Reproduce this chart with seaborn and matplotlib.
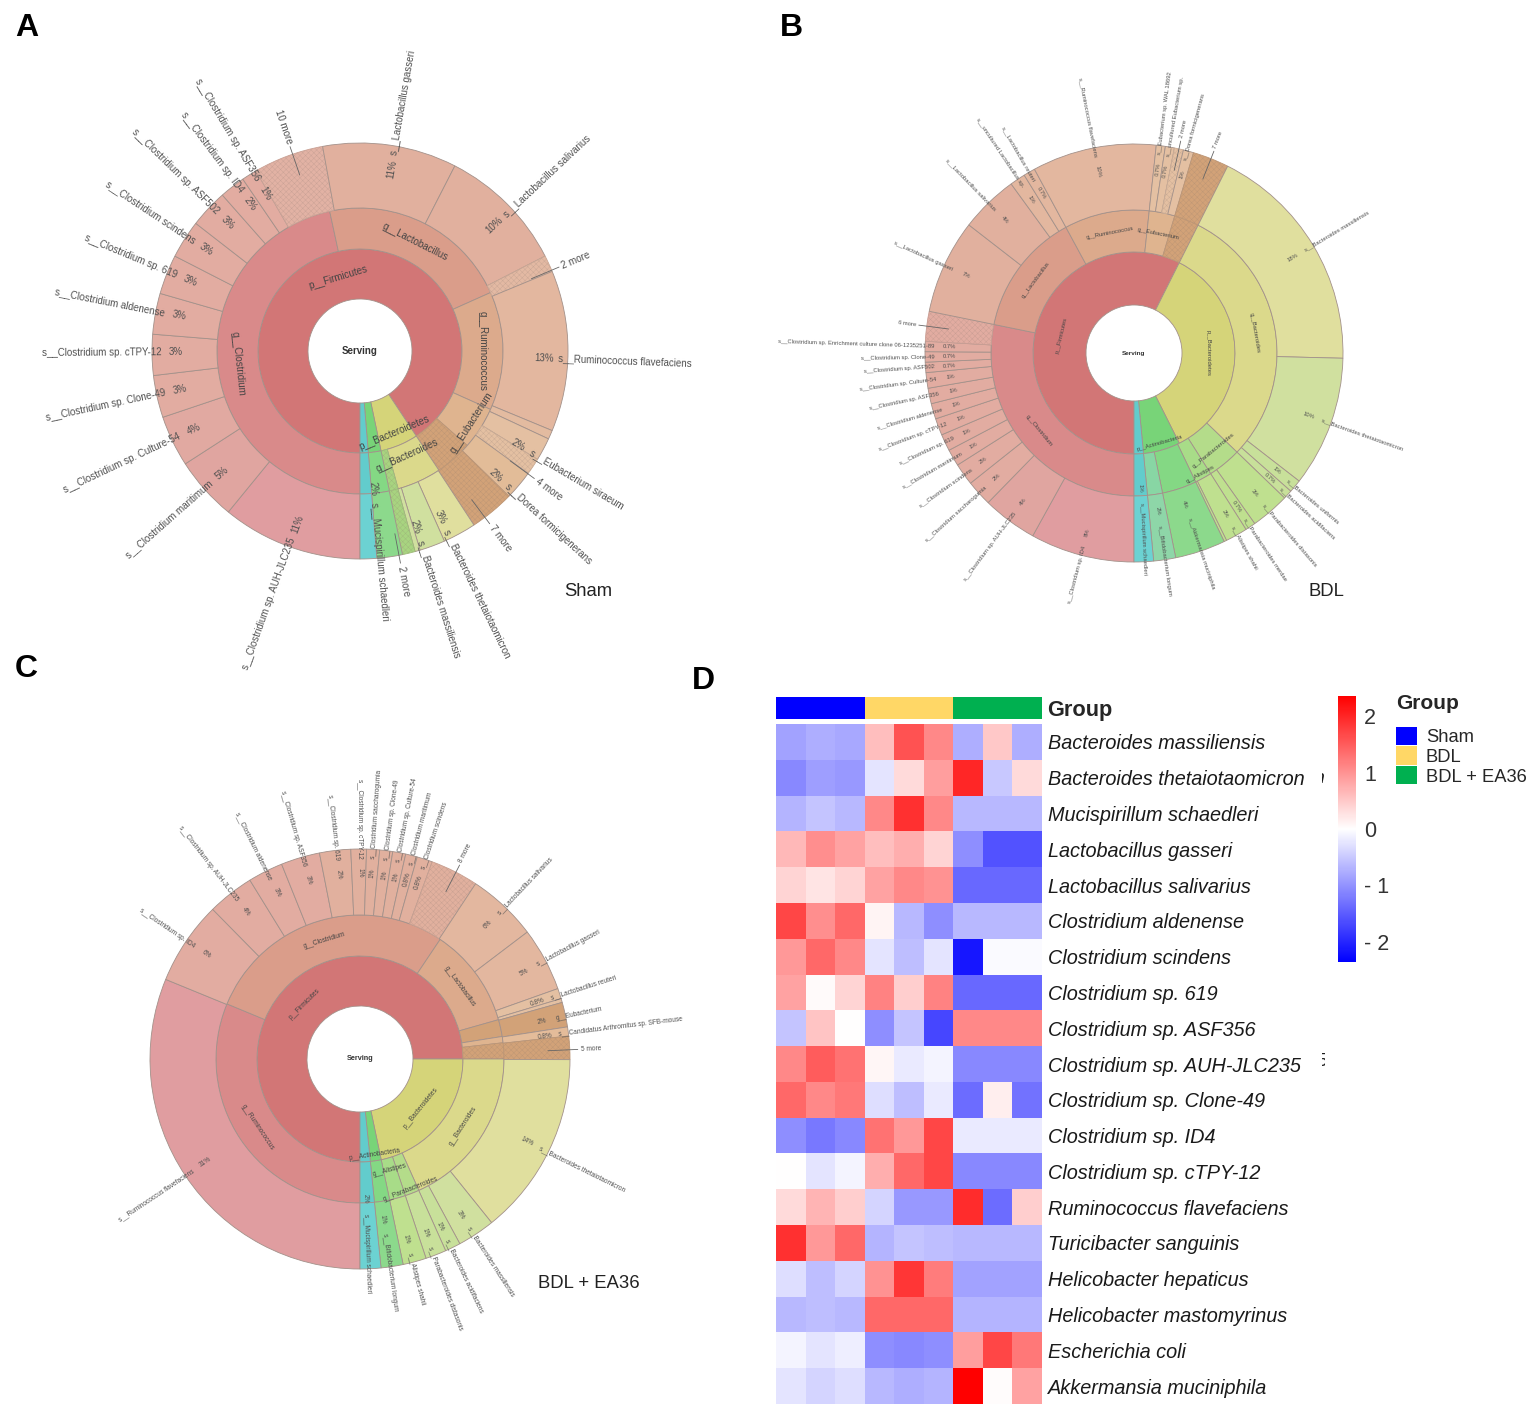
import numpy as np
import pandas as pd
import matplotlib
matplotlib.use("Agg")
import matplotlib.pyplot as plt
from matplotlib.colors import LinearSegmentedColormap, ListedColormap, to_rgb
from matplotlib.patches import Patch
from matplotlib.transforms import Bbox
import seaborn as sns

# ---------- Panel A data (percent of circle, clockwise from 6 o'clock) ----------
a_phylum = ["p__Firmicutes", "p__Bacteroidetes", "", ""]
a_phylum_v = [90.7, 6.0, 2.0, 1.3]
a_genus = ["g__Clostridium", "g__Lactobacillus", "g__Ruminococcus", "g__Eubacterium", "",
           "g__Bacteroides", "", "", ""]
a_genus_v = [46.6, 21.7, 13.4, 4.8, 4.2, 5.0, 1.0, 2.0, 1.3]
a_species = ["s__Clostridium sp. AUH-JLC235", "s__Clostridium maritimum", "s__Clostridium sp. Culture-54",
             "s__Clostridium sp. Clone-49", "s__Clostridium sp. cTPY-12", "s__Clostridium aldenense",
             "s__Clostridium sp. 619", "s__Clostridium scindens", "s__Clostridium sp. ASF502",
             "s__Clostridium sp. ID4", "s__Clostridium sp. ASF356", "10 more", "s__Lactobacillus gasseri",
             "s__Lactobacillus salivarius", "2 more", "s__Ruminococcus flavefaciens", "", "s__Eubacterium siraeum",
             "4 more", "s__Dorea formicigenerans", "7 more", "s__Bacteroides thetaiotaomicron",
             "s__Bacteroides massiliensis", "", "2 more", "s__Mucispirillum schaedleri", ""]
a_species_v = [11.0, 5.0, 4.0, 3.3, 3.2, 3.2, 3.1, 3.0, 3.0, 2.0, 1.2, 5.5, 10.5, 10.0, 1.3, 12.6, 0.7,
               1.8, 1.3, 2.3, 3.5, 2.6, 2.0, 0.4, 1.0, 2.0, 1.3]
a_species_pct = ["11%", "5%", "4%", "3%", "3%", "3%", "3%", "3%", "3%", "2%", "1%", "", "11%", "10%", "", "13%",
                 "", "2%", "", "2%", "", "3%", "2%", "", "", "2%", ""]

# ---------- Panel B data ----------
b_phylum = ["p__Firmicutes", "p__Bacteroidetes", "p__Actinobacteria", ""]
b_phylum_v = [57.4, 35.2, 5.9, 1.5]
b_genus = ["g__Clostridium", "g__Lactobacillus", "g__Ruminococcus", "g__Eubacterium", "", "g__Bacteroides",
           "g__Parabacteroides", "g__Alistipes", "", "", ""]
b_genus_v = [28.2, 13.9, 9.6, 2.9, 2.8, 29.8, 3.8, 1.9, 3.9, 1.7, 1.5]
b_species = ["s__Clostridium sp. ID4", "s__Clostridium sp. AUH-JLC235", "s__Clostridium saccharogumia",
             "s__Clostridium scindens", "s__Clostridium maritimum", "s__Clostridium sp. 619",
             "s__Clostridium sp. cTPY-12", "s__Clostridium aldenense", "s__Clostridium sp. ASF356",
             "s__Clostridium sp. Culture-54", "s__Clostridium sp. ASF502", "s__Clostridium sp. Clone-49",
             "s__Clostridium sp. Enrichment culture clone 06-1235251-89", "6 more",
             "s__Lactobacillus gasseri", "s__Lactobacillus salivarius", "s__uncultured Lactobacillus sp.",
             "s__Lactobacillus reuteri", "s__Ruminococcus flavefaciens", "s__Eubacterium sp. WAL 18692",
             "s__uncultured Eubacterium sp.", "2 more", "s__Dorea formicigenerans", "7 more",
             "s__Bacteroides massiliensis", "s__Bacteroides thetaiotaomicron", "s__Bacteroides uniformis",
             "s__Bacteroides acidifaciens", "s__Parabacteroides distasonis", "s__Parabacteroides merdae",
             "s__Alistipes shahii", "", "s__Akkermansia muciniphila", "s__Bifidobacterium longum",
             "s__Mucispirillum schaedleri"]
b_species_v = [8.05, 4.25, 2.0, 1.7, 1.3, 1.3, 1.3, 1.2, 1.2, 1.2, 0.8, 0.8, 0.8, 2.3, 7.3, 4.5, 1.2, 0.9, 9.6,
               0.7, 0.7, 0.7, 0.8, 2.8, 18.0, 10.1, 1.0, 0.7, 3.0, 0.8, 1.7, 0.2, 3.9, 1.7, 1.5]
b_species_pct = ["8%", "4%", "2%", "2%", "1%", "1%", "1%", "1%", "1%", "1%", "0.7%", "0.7%", "0.7%", "",
                 "7%", "4%", "1%", "0.7%", "10%", "0.7%", "0.7%", "", "1%", "", "18%", "10%", "1%", "0.7%",
                 "3%", "0.7%", "2%", "", "4%", "2%", "1%"]

# ---------- Panel C data ----------
c_phylum = ["p__Firmicutes", "p__Bacteroidetes", "p__Actinobacteria", ""]
c_phylum_v = [75.0, 21.7, 1.7, 1.6]
c_genus = ["g__Ruminococcus", "g__Clostridium", "g__Lactobacillus", "", "", "", "g__Bacteroides",
           "g__Parabacteroides", "g__Alistipes", "", ""]
c_genus_v = [31.25, 28.15, 11.2, 1.9, 0.7, 1.8, 18.3, 1.6, 1.8, 1.7, 1.6]
c_species = ["s__Ruminococcus flavefaciens", "s__Clostridium sp. ID4", "s__Clostridium sp. AUH-JLC235",
             "s__Clostridium aldenense", "s__Clostridium sp. ASF356", "s__Clostridium sp. 619",
             "s__Clostridium sp. cTPY-12", "s__Clostridium saccharogumia", "s__Clostridium sp. Clone-49",
             "s__Clostridium sp. Culture-54", "s__Clostridium maritimum", "s__Clostridium scindens", "8 more",
             "s__Lactobacillus salivarius", "s__Lactobacillus gasseri", "s__Lactobacillus reuteri", "",
             "g__Eubacterium", "s__Candidatus Arthromitus sp. SFB-mouse", "5 more",
             "s__Bacteroides thetaiotaomicron", "s__Bacteroides massiliensis", "s__Bacteroides acidifaciens",
             "s__Parabacteroides distasonis", "s__Alistipes shahii", "s__Bifidobacterium longum",
             "s__Mucispirillum schaedleri"]
c_species_v = [31.25, 6.45, 3.6, 2.7, 3.0, 2.4, 1.2, 1.0, 1.0, 1.0, 0.9, 1.2, 3.7, 5.4, 4.9, 0.8, 0.3,
               1.9, 0.7, 1.8, 14.2, 2.9, 1.2, 1.6, 1.8, 1.7, 1.6]
c_species_pct = ["31%", "6%", "4%", "3%", "3%", "2%", "1%", "1%", "1%", "1%", "0.8%", "0.8%", "",
                 "6%", "5%", "0.8%", "", "2%", "0.8%", "", "14%", "3%", "1%", "1%", "1%", "1%", "2%"]

# ---------- Panel D data ----------
taxa = ["Bacteroides massiliensis", "Bacteroides thetaiotaomicron", "Mucispirillum schaedleri",
        "Lactobacillus gasseri", "Lactobacillus salivarius", "Clostridium aldenense", "Clostridium scindens",
        "Clostridium sp. 619", "Clostridium sp. ASF356", "Clostridium sp. AUH-JLC235", "Clostridium sp. Clone-49",
        "Clostridium sp. ID4", "Clostridium sp. cTPY-12", "Ruminococcus flavefaciens", "Turicibacter sanguinis",
        "Helicobacter hepaticus", "Helicobacter mastomyrinus", "Escherichia coli", "Akkermansia muciniphila"]
samples = ["S1", "S2", "S3", "B1", "B2", "B3", "E1", "E2", "E3"]
z_scores = [
    [-0.85, -0.75, -0.8, 0.6, 1.6, 1.1, -0.75, 0.5, -0.75],
    [-1.1, -0.9, -0.95, -0.25, 0.35, 0.9, 2.0, -0.5, 0.35],
    [-0.7, -0.55, -0.65, 1.1, 1.9, 1.1, -0.65, -0.65, -0.65],
    [0.65, 1.05, 0.85, 0.6, 0.75, 0.4, -1.05, -1.6, -1.6],
    [0.4, 0.25, 0.4, 0.85, 1.1, 1.0, -1.4, -1.4, -1.4],
    [1.7, 1.05, 1.4, 0.1, -0.65, -1.05, -0.65, -0.65, -0.65],
    [0.95, 1.4, 1.1, -0.25, -0.6, -0.25, -2.15, -0.05, -0.05],
    [0.85, 0.05, 0.4, 1.15, 0.45, 1.15, -1.4, -1.4, -1.4],
    [-0.55, 0.55, 0.0, -1.05, -0.55, -1.7, 1.1, 1.1, 1.1],
    [1.1, 1.5, 1.3, 0.08, -0.2, -0.1, -1.1, -1.1, -1.1],
    [1.4, 1.1, 1.25, -0.3, -0.6, -0.2, -1.35, 0.15, -1.3],
    [-1.05, -1.25, -1.1, 1.3, 0.95, 1.7, -0.2, -0.2, -0.2],
    [0.0, -0.25, -0.1, 0.75, 1.4, 1.7, -1.1, -1.1, -1.1],
    [0.35, 0.7, 0.45, -0.4, -0.95, -0.95, 1.95, -1.35, 0.45],
    [1.9, 0.95, 1.4, -0.7, -0.55, -0.6, -0.65, -0.65, -0.65],
    [-0.3, -0.6, -0.4, 1.0, 1.85, 1.2, -0.85, -0.85, -0.85],
    [-0.65, -0.6, -0.65, 1.4, 1.4, 1.4, -0.7, -0.7, -0.7],
    [-0.1, -0.25, -0.15, -1.05, -1.1, -1.05, 0.9, 1.7, 1.25],
    [-0.25, -0.4, -0.3, -0.65, -0.75, -0.7, 2.36, 0.02, 0.85],
]
group_codes = [[0, 0, 0, 1, 1, 1, 2, 2, 2]]
group_names = ["Sham", "BDL", "BDL + EA36"]
cbar_ticks = [-2, -1, 0, 1, 2]
cbar_tick_labels = ["- 2", "- 1", "0", "1", "2"]

# ---------- Styles ----------
W, H = 1535, 1408
sns.set_theme(style="white")
plt.rcParams["font.family"] = ["Liberation Sans", "DejaVu Sans"]
plt.rcParams["hatch.linewidth"] = 0.3
EDGE = "#a3918a"
TXT = "#505050"

teal1, teal2, teal3 = "#62cccc", "#62cccc", "#6cd2d2"
green1, green2, green3 = "#78d478", "#84d884", "#8cd98c"
red1, red2, red3 = "#d27676", "#d98a8a", "#e09da0"
sal2, tan2, tan2b = "#da9d8a", "#dcaa8c", "#dfb48f"
sp_a, sp_b, sp_c, sp_d = "#e0a5a0", "#e2aca1", "#e1b09e", "#e3b79f"
brown = "#d2a278"
yel1, yel2, yel3 = "#d5d479", "#dbd98b", "#e0df9e"
lime2, lime3, lime4, lime5 = "#b4dc8a", "#d0e09f", "#c8e09a", "#bfe08f"

a_phylum_c = [red1, yel1, green1, teal1]
a_genus_c = [red2, sal2, tan2, tan2b, brown, yel2, "#a8d480", green2, teal2]
a_species_c = [red3, sp_a, "#e1a9a1", sp_b, sp_b, sp_b, sp_b, sp_b, sp_b, sp_b, sp_b, "#e2b2a4", sp_c, sp_c,
               "#e3b9a3", sp_d, "#e3bba0", "#e4c0a2", "#e4c0a2", "#e2bc98", brown, yel3, lime3, lime3, "#a8d480",
               green3, teal3]
b_phylum_c = [red1, yel1, green1, teal1]
b_genus_c = [red2, sal2, tan2, tan2b, brown, yel2, lime2, "#a8dc88", green2, "#88d6a4", teal2]
b_species_c = [red3, sp_a] + [sp_b] * 11 + ["#e2aca1", sp_c, sp_c, sp_d, sp_d, sp_d, "#e4c0a2", "#e4c0a2",
               "#e4c0a2", "#e4c0a2", brown, yel3, lime3, lime4, lime4, lime5, lime5, lime5, lime5, green3,
               "#8ed6a8", teal3]
c_phylum_c = [red1, yel1, green1, teal1]
c_genus_c = [red2, sal2, tan2, brown, tan2b, brown, yel2, lime2, "#a8dc88", green2, teal2]
c_species_c = [red3] + [sp_b] * 4 + [sp_c] * 8 + [sp_d, sp_d, "#e4c0a2", "#e4c0a2", brown, "#e4bc9a", brown,
               yel3, lime3, lime4, lime4, lime5, green3, teal3]


def px_axes(left, top, width, height):
    return fig.add_axes([left / W, 1 - (top + height) / H, width / W, height / H])


def polar(frac, r):
    th = np.radians(180 + 3.6 * frac)
    return r * np.sin(th), r * np.cos(th)


def radial_text(ax, frac, r, s, size, anchor_mid=False, color=TXT):
    th = 180 + 3.6 * frac
    x, y = polar(frac, r)
    right = np.sin(np.radians(th)) >= 0
    rot = 90 - th if right else 270 - th
    ha = "center" if anchor_mid else ("left" if right else "right")
    ax.text(x, y, s, rotation=rot, rotation_mode="anchor", ha=ha, va="center", fontsize=size, color=color)


def ring(ax, vals, cols, outer, width):
    wedges, _ = ax.pie(vals, radius=outer, startangle=270, counterclock=False, colors=cols,
                       wedgeprops=dict(width=width, edgecolor=EDGE, linewidth=0.6), normalize=True)
    return wedges


def set_hatch(w):
    face = np.array(w.get_facecolor()[:3])
    w.set_hatch("xxxxxx")
    w.set_edgecolor(tuple(face * 0.72 + np.array(to_rgb(EDGE)) * 0.28 - 0.03))


def krona(cx, cy, radii, phy, phy_v, phy_c, gen, gen_v, gen_c, spe, spe_v, spe_c, spe_pct, size,
          serving, shifts, hatched, title, title_xy):
    half = 345
    ax = px_axes(cx - half, cy - half, 2 * half, 2 * half)
    r0, r1, r2, r3 = radii
    ring(ax, phy_v, phy_c, r1, r1 - r0)
    gw = ring(ax, gen_v, gen_c, r2, r2 - r1)
    sw = ring(ax, spe_v, spe_c, r3, r3 - r2)
    for idx in hatched["genus"]:
        set_hatch(gw[idx])
    for w, name in zip(sw, spe):
        if name.endswith("more"):
            set_hatch(w)
    for idx in hatched["species"]:
        set_hatch(sw[idx])
    ax.set_xlim(-half, half)
    ax.set_ylim(-half, half)
    ax.set_aspect("equal")
    ax.patch.set_visible(False)
    ax.axis("off")
    ax.text(0, 0, "Serving", ha="center", va="center", fontsize=serving, fontweight="bold", color="#333333")

    # ring names follow the circle
    for names, vals, rm in ((phy, phy_v, (r0 + r1) / 2), (gen, gen_v, (r1 + r2) / 2)):
        edges = np.cumsum([0] + list(vals))
        for i, name in enumerate(names):
            if not name:
                continue
            mid = (edges[i] + edges[i + 1]) / 2
            x, y = polar(mid, rm + shifts.get(name, 0))
            th = 180 + 3.6 * mid
            rot = ((-th + 90) % 180) - 90
            ax.text(x, y, name, rotation=rot, rotation_mode="anchor", ha="center", va="center",
                    fontsize=size, color="#444444")

    # species names run outwards from the rim
    edges = np.cumsum([0] + list(spe_v))
    for i, name in enumerate(spe):
        if not name:
            continue
        mid = (edges[i] + edges[i + 1]) / 2
        if name.endswith("more"):
            p0, p1 = polar(mid, r3 - 22), polar(mid, r3 + 8)
            ax.plot([p0[0], p1[0]], [p0[1], p1[1]], color="#666666", lw=0.6)
            radial_text(ax, mid, r3 + 11, name, size)
            continue
        shift = shifts.get(name, 0)
        radial_text(ax, mid, r3 * 0.955 + shift, name, size)
        if spe_pct[i]:
            radial_text(ax, mid, r3 * 0.885 + shift, spe_pct[i], size, anchor_mid=True)
    fig.text(title_xy[0] / W, 1 - title_xy[1] / H, title, fontsize=13.3, color="#222222", va="center")


fig = plt.figure(figsize=(W / 100, H / 100), dpi=100, facecolor="white")

krona(360, 351, (52, 102, 143, 208), a_phylum, a_phylum_v, a_phylum_c, a_genus, a_genus_v, a_genus_c,
      a_species, a_species_v, a_species_c, a_species_pct, 7.0, 7,
      {"s__Mucispirillum schaedleri": -46, "g__Eubacterium": 10, "g__Bacteroides": -8, "p__Bacteroidetes": 12},
      {"genus": [4, 6], "species": [24]}, "Sham", (564, 592))
krona(1134, 353, (48, 101, 143, 209), b_phylum, b_phylum_v, b_phylum_c, b_genus, b_genus_v, b_genus_c,
      b_species, b_species_v, b_species_c, b_species_pct, 4.2, 4.6,
      {"s__Mucispirillum schaedleri": -50, "s__Bifidobacterium longum": -25, "s__Akkermansia muciniphila": -25,
       "p__Actinobacteria": 19, "g__Alistipes": 16, "g__Parabacteroides": 4},
      {"genus": [4], "species": []}, "BDL", (1309, 592))
krona(360, 1059, (53, 103, 144, 210), c_phylum, c_phylum_v, c_phylum_c, c_genus, c_genus_v, c_genus_c,
      c_species, c_species_v, c_species_c, c_species_pct, 4.7, 5.2,
      {"s__Mucispirillum schaedleri": -46, "s__Bifidobacterium longum": -24,
       "p__Actinobacteria": 19, "g__Alistipes": -8, "g__Parabacteroides": 16},
      {"genus": [5], "species": []}, "BDL + EA36", (538, 1283))

# ---------- Heatmap ----------
frame = pd.DataFrame(z_scores, index=taxa, columns=samples)
cmap = LinearSegmentedColormap.from_list("bwr_like", ["#0000ff", "#ffffff", "#ff0000"])
ax_h = px_axes(776, 724, 266, 680)
ax_c = px_axes(1338, 696, 18, 266)
sns.heatmap(frame, ax=ax_h, cmap=cmap, vmin=-2.36, vmax=2.36, cbar_ax=ax_c, xticklabels=False, yticklabels=True)
ax_h.yaxis.tick_right()
ax_h.set_ylabel("")
ax_h.tick_params(axis="y", length=0, pad=4, labelrotation=0)
for lab in ax_h.get_yticklabels():
    lab.set_fontstyle("italic")
    lab.set_fontsize(14.3)
    lab.set_color("#1a1a1a")
    lab.set_va("center_baseline")
ax_c.set_yticks(cbar_ticks)
ax_c.set_yticklabels(cbar_tick_labels, fontsize=15.5, color="#333333")
ax_c.yaxis.tick_right()
ax_c.tick_params(axis="y", length=0, pad=6)
for s in ax_c.spines.values():
    s.set_visible(False)

group_cols = ["#0000ff", "#ffd766", "#00b050"]
ax_g = px_axes(776, 697, 266, 22)
sns.heatmap(group_codes, ax=ax_g, cmap=ListedColormap(group_cols), cbar=False, xticklabels=False,
            yticklabels=["Group"], vmin=0, vmax=2)
ax_g.yaxis.tick_right()
ax_g.tick_params(axis="y", length=0, pad=4, labelrotation=0)
for lab in ax_g.get_yticklabels():
    lab.set_fontweight("bold")
    lab.set_fontsize(15.7)
    lab.set_va("center_baseline")

handles = [Patch(facecolor=c, edgecolor="none", label=n) for c, n in zip(group_cols, group_names)]
leg = fig.legend(handles=handles, title="Group", loc="upper left", bbox_to_anchor=(1381 / W, 1 - 679 / H),
                 frameon=False, fontsize=13.2, alignment="left", handlelength=1.15, handleheight=1.15,
                 labelspacing=0.03, handletextpad=0.5, borderpad=0.3,
                 title_fontproperties={"weight": "bold", "size": 15})
leg._legend_box.sep = 10

# clipped label fragments beside the heatmap
for s, x, y in (("n", 1314, 778), ("5", 1317, 1062)):
    t = fig.text(x / W, 1 - y / H, s, fontsize=14, style="italic", va="center", color="#1a1a1a")
    t.set_clip_box(Bbox([[1322, 0], [1325, H]]))
    t.set_clip_on(True)

for s, x, y in (("A", 15, 28), ("B", 780, 28), ("C", 15, 669), ("D", 692, 681)):
    fig.text(x / W, 1 - y / H, s, fontsize=23, fontweight="bold", color="black", va="center")

fig.savefig("out.png", dpi=100)
